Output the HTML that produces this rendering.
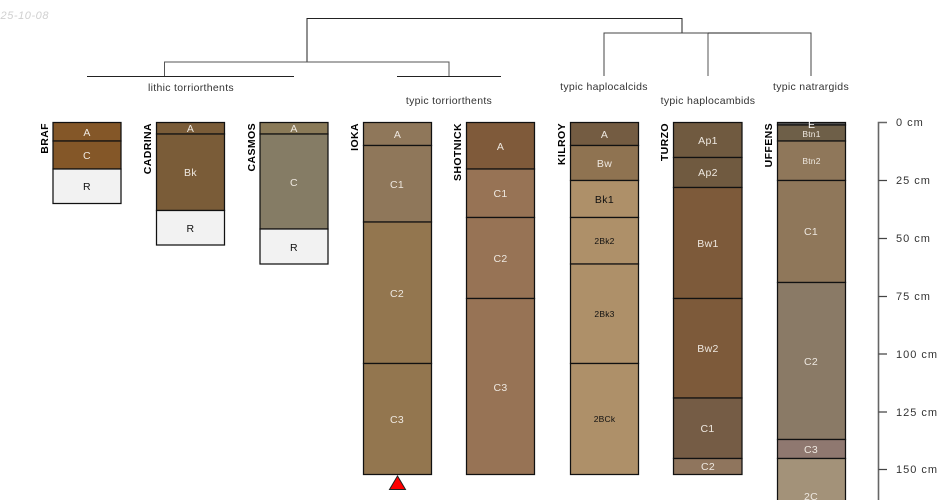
<!DOCTYPE html>
<html><head><meta charset="utf-8"><style>
html,body{margin:0;padding:0;background:#fff;width:950px;height:500px;overflow:hidden}
svg{display:block}
text{font-family:"Liberation Sans",sans-serif;font-size:10.5px}
.h{text-anchor:middle;fill:#eee8e0;letter-spacing:.35px}
.k{text-anchor:middle;fill:#111;letter-spacing:.35px}
.s{font-size:8.5px;letter-spacing:.2px}
.t{text-anchor:middle;fill:#333;letter-spacing:.3px}
.n{font-weight:bold;font-size:10.5px;fill:#000;text-anchor:end;letter-spacing:.4px}
.a{fill:#333;font-size:11px;letter-spacing:1px}
rect{stroke:#111;stroke-width:1.25}
</style></head><body>
<svg width="950" height="500" viewBox="0 0 950 500" xmlns="http://www.w3.org/2000/svg">
<text x="49" y="19" text-anchor="end" font-style="italic" style="font-size:11px;letter-spacing:.55px" fill="#d0d0d0">2025-10-08</text>

<g fill="none" stroke="#222" stroke-width="1">
<path d="M307 62V18.500H682V33"/>
<path d="M164.500 76V62H449V76" stroke="#555"/>
<path d="M87 76.500H294M397 76.500H501"/>
<path d="M604 76V33H811V76" stroke="#444"/>
<path d="M708 76V33" stroke="#555"/>
<path d="M708 33H760" stroke="#222"/>
</g>
<text class="t" x="191" y="91">lithic torriorthents</text>
<text class="t" x="449" y="104">typic torriorthents</text>
<text class="t" x="604" y="90">typic haplocalcids</text>
<text class="t" x="708" y="104">typic haplocambids</text>
<text class="t" x="811" y="90">typic natrargids</text>

<!-- BRAF -->
<g>
<rect x="53" y="122.500" width="68" height="18.500" fill="#845728"/>
<rect x="53" y="141" width="68" height="28" fill="#845728"/>
<rect x="53" y="169" width="68" height="34.500" fill="#f2f2f2"/>
<text class="h" x="87" y="136">A</text><text class="h" x="87" y="159">C</text><text class="k" x="87" y="190">R</text>
<text class="n" transform="translate(48,123) rotate(-90)">BRAF</text>
</g>
<!-- CADRINA -->
<g>
<rect x="156.500" y="122.500" width="68" height="11.500" fill="#7a5c38"/>
<rect x="156.500" y="134" width="68" height="76.500" fill="#7a5c38"/>
<rect x="156.500" y="210.500" width="68" height="34.500" fill="#f2f2f2"/>
<text class="h" x="190.500" y="132">A</text><text class="h" x="190.500" y="176">Bk</text><text class="k" x="190.500" y="232">R</text>
<text class="n" transform="translate(151,123) rotate(-90)">CADRINA</text>
</g>
<!-- CASMOS -->
<g>
<rect x="260" y="122.500" width="68" height="11.500" fill="#8a7a58"/>
<rect x="260" y="134" width="68" height="95" fill="#857c65"/>
<rect x="260" y="229" width="68" height="35" fill="#f2f2f2"/>
<text class="h" x="294" y="132">A</text><text class="h" x="294" y="186">C</text><text class="k" x="294" y="251">R</text>
<text class="n" transform="translate(255,123) rotate(-90)">CASMOS</text>
</g>
<!-- IOKA -->
<g>
<rect x="363.500" y="122.500" width="68" height="23" fill="#8f775a"/>
<rect x="363.500" y="145.500" width="68" height="76.500" fill="#8f775a"/>
<rect x="363.500" y="222" width="68" height="141.500" fill="#93764f"/>
<rect x="363.500" y="363.500" width="68" height="111" fill="#93764f"/>
<text class="h" x="397.500" y="138">A</text><text class="h" x="397" y="188">C1</text><text class="h" x="397" y="297">C2</text><text class="h" x="397" y="423">C3</text>
<text class="n" transform="translate(358,123) rotate(-90)">IOKA</text>
<path d="M397.500 476L389.500 489.500H405.500Z" fill="#f00" stroke="#222" stroke-width="1"/>
</g>
<!-- SHOTNICK -->
<g>
<rect x="466.500" y="122.500" width="68" height="46.500" fill="#7f5a3a"/>
<rect x="466.500" y="169" width="68" height="48.500" fill="#977355"/>
<rect x="466.500" y="217.500" width="68" height="81" fill="#977355"/>
<rect x="466.500" y="298.500" width="68" height="176" fill="#977355"/>
<text class="h" x="500.500" y="150">A</text><text class="h" x="500.500" y="197">C1</text><text class="h" x="500.500" y="262">C2</text><text class="h" x="500.500" y="391">C3</text>
<text class="n" transform="translate(461,123) rotate(-90)">SHOTNICK</text>
</g>
<!-- KILROY -->
<g>
<rect x="570.500" y="122.500" width="68" height="23" fill="#745c42"/>
<rect x="570.500" y="145.500" width="68" height="35" fill="#8f7351"/>
<rect x="570.500" y="180.500" width="68" height="37" fill="#ae9069"/>
<rect x="570.500" y="217.500" width="68" height="46.500" fill="#ae9069"/>
<rect x="570.500" y="264" width="68" height="99.500" fill="#ae9069"/>
<rect x="570.500" y="363.500" width="68" height="111" fill="#ae9069"/>
<text class="h" x="604.500" y="138">A</text><text class="h" x="604.500" y="167">Bw</text><text class="k" x="604.500" y="203">Bk1</text>
<text class="k s" x="604.500" y="244">2Bk2</text><text class="k s" x="604.500" y="317">2Bk3</text><text class="k s" x="604.500" y="422">2BCk</text>
<text class="n" transform="translate(565,123) rotate(-90)">KILROY</text>
</g>
<!-- TURZO -->
<g>
<rect x="673.500" y="122.500" width="68.500" height="35" fill="#705a40"/>
<rect x="673.500" y="157.500" width="68.500" height="30" fill="#705a40"/>
<rect x="673.500" y="187.500" width="68.500" height="111" fill="#7d5a3a"/>
<rect x="673.500" y="298.500" width="68.500" height="99.500" fill="#7d5a3a"/>
<rect x="673.500" y="398" width="68.500" height="60.500" fill="#755c45"/>
<rect x="673.500" y="458.500" width="68.500" height="16" fill="#8f755d"/>
<text class="h" x="708" y="144">Ap1</text><text class="h" x="708" y="176">Ap2</text><text class="h" x="708" y="247">Bw1</text><text class="h" x="708" y="352">Bw2</text><text class="h" x="707.500" y="432">C1</text><text class="h" x="708" y="470">C2</text>
<text class="n" transform="translate(668,123) rotate(-90)">TURZO</text>
</g>
<!-- UFFENS -->
<g>
<rect x="777.500" y="122.500" width="68" height="2.500" fill="#555"/>
<rect x="777.500" y="125" width="68" height="16" fill="#6e5f48"/>
<rect x="777.500" y="141" width="68" height="39.500" fill="#8f775a"/>
<rect x="777.500" y="180.500" width="68" height="102" fill="#8f775a"/>
<rect x="777.500" y="282.500" width="68" height="157" fill="#8a7a66"/>
<rect x="777.500" y="439.500" width="68" height="19" fill="#8f7870"/>
<rect x="777.500" y="458.500" width="68" height="60" fill="#a39279"/>
<text x="811.500" y="128" text-anchor="middle" fill="#fff">E</text>
<text class="h s" x="811.500" y="137">Btn1</text><text class="h s" x="811.500" y="164">Btn2</text>
<text class="h" x="811" y="235">C1</text><text class="h" x="811" y="365">C2</text><text class="h" x="811" y="453">C3</text><text class="h" x="811" y="500">2C</text>
<text class="n" transform="translate(772,123) rotate(-90)">UFFENS</text>
</g>

<!-- depth axis -->
<g fill="none">
<path d="M878.500 500V122.500H887" stroke="#666" stroke-width="1.600"/>
<path d="M878.500 180.500H887M878.500 238.500H887M878.500 296.500H887M878.500 354H887M878.500 412H887M878.500 469.500H887" stroke="#444" stroke-width="1.300"/>
</g>
<text class="a" x="896" y="126">0 cm</text>
<text class="a" x="896" y="184">25 cm</text>
<text class="a" x="896" y="242">50 cm</text>
<text class="a" x="896" y="300">75 cm</text>
<text class="a" x="896" y="358">100 cm</text>
<text class="a" x="896" y="416">125 cm</text>
<text class="a" x="896" y="473">150 cm</text>
</svg>
</body></html>
